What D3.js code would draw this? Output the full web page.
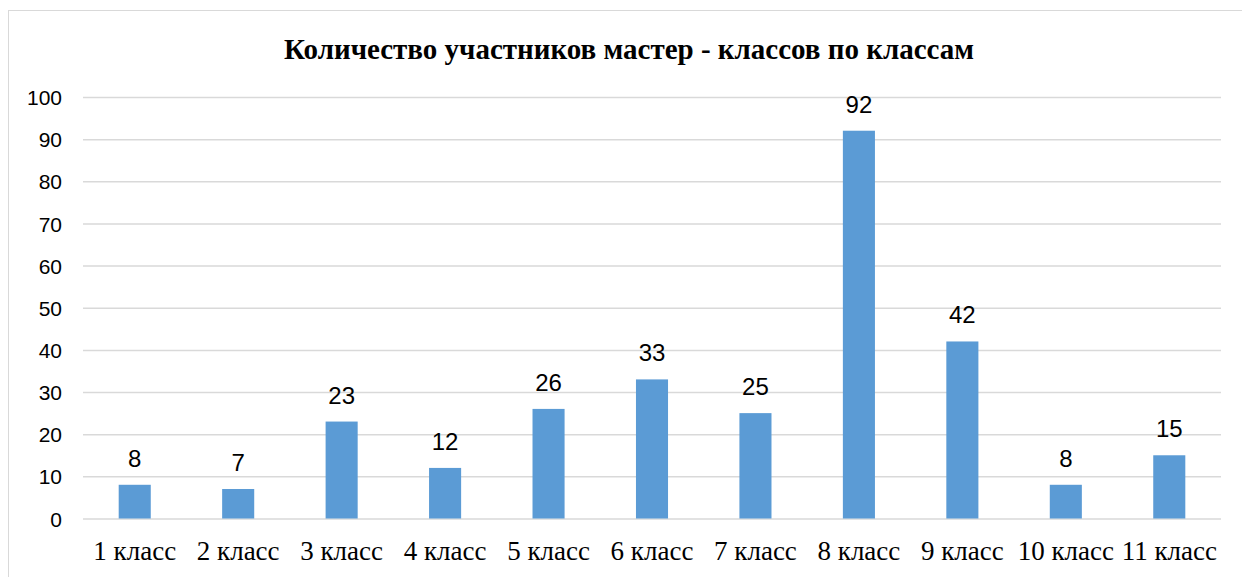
<!DOCTYPE html>
<html>
<head>
<meta charset="utf-8">
<script src="https://cdn.jsdelivr.net/npm/d3@7"></script>
<style>
  body { margin: 0; background: #fff; }
</style>
</head>
<body>
<div id="chart"></div>
<script>
var categories = ["1 класс", "2 класс", "3 класс", "4 класс", "5 класс", "6 класс",
                  "7 класс", "8 класс", "9 класс", "10 класс", "11 класс"];
var values = [8, 7, 23, 12, 26, 33, 25, 92, 42, 8, 15];
var yTicks = [0, 10, 20, 30, 40, 50, 60, 70, 80, 90, 100];
var title = "Количество участников мастер - классов по классам";

var width = 1242;
var height = 577;
var margin = { top: 97, right: 21, bottom: 58, left: 83 };

var svg = d3.select("#chart").append("svg").attr("width", width).attr("height", height);

// outer chart border
svg.append("rect")
  .attr("x", 8.5).attr("y", 10.5)
  .attr("width", width + 10).attr("height", height + 10)
  .attr("fill", "none").attr("stroke", "#d9d9d9").attr("stroke-width", 1);

var x = d3.scaleBand().domain(categories)
  .range([margin.left, width - margin.right])
  .paddingInner(0.69).paddingOuter(0.345);

var y = d3.scaleLinear().domain([0, 100])
  .range([height - margin.bottom - 0.5, margin.top]);

// gridlines
var yAxis = d3.axisLeft(y).tickValues(yTicks)
  .tickSize(-(width - margin.right - margin.left)).tickPadding(21);
var gy = svg.append("g").attr("transform", "translate(" + margin.left + ",0)").call(yAxis);
gy.select(".domain").remove();
gy.selectAll(".tick line").attr("stroke", "#d9d9d9").attr("stroke-width", 1.5);
gy.selectAll(".tick text")
  .attr("font-family", "Liberation Sans, Arial, sans-serif")
  .attr("font-size", 21).attr("fill", "#000").attr("dy", "0.36em");

var xAxis = d3.axisBottom(x).tickSize(0).tickPadding(22);
var gx = svg.append("g").attr("transform", "translate(0," + y(0) + ")").call(xAxis);
gx.select(".domain").remove();
gx.selectAll(".tick text")
  .attr("font-family", "Liberation Serif, Times New Roman, serif")
  .attr("font-size", 27).attr("fill", "#000").attr("dy", "0.71em");

svg.append("g").selectAll("rect")
  .data(values)
  .enter()
  .append("rect")
  .attr("x", (d, i) => x(categories[i]))
  .attr("width", x.bandwidth())
  .attr("y", d => y(d))
  .attr("height", d => y(0) - y(d))
  .attr("fill", "#5b9bd5");

svg.append("g").selectAll("text")
  .data(values)
  .enter()
  .append("text")
  .attr("x", (d, i) => x(categories[i]) + x.bandwidth() / 2)
  .attr("y", d => y(d) - 18)
  .attr("text-anchor", "middle")
  .attr("font-family", "Liberation Sans, Arial, sans-serif")
  .attr("font-size", 24)
  .text(d => d);

svg.append("text")
  .attr("x", 629).attr("y", 59)
  .attr("text-anchor", "middle")
  .attr("font-family", "Liberation Serif, Times New Roman, serif")
  .attr("font-weight", "bold")
  .attr("font-size", 29)
  .text(title);
</script>
</body>
</html>
